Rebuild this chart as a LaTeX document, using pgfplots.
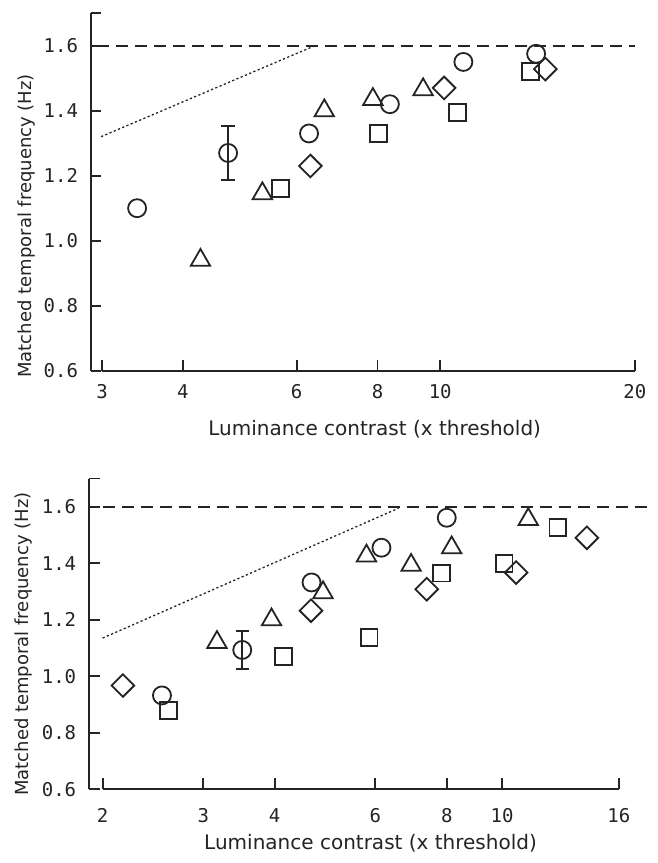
\documentclass[border=0pt]{standalone}
\usepackage{fontspec}
\setmainfont{DejaVu Sans}
\newfontfamily\tickfont{DejaVu Sans Mono}
\usepackage{pgfplots}
\pgfplotsset{compat=1.18}
\definecolor{ink}{RGB}{35,35,40}

\pgfplotsset{
 mypanel/.style={
  scale only axis, ymin=0.6, ymax=1.7,
  axis x line=bottom, axis y line=left,
  axis line style={-, line width=1pt, ink},
  x axis line style={draw=none},
  tick align=inside, major tick length=5.5pt,
  tick style={ink, line width=0.9pt},
  ytick={0.6,0.8,1.0,1.2,1.4,1.6,1.7},
  yticklabels={0.6,0.8,1.0,1.2,1.4,1.6,{}},
  ticklabel style={font=\tickfont\fontsize{9.5}{10}\selectfont, text=ink},
  yticklabel style={anchor=east, xshift=-2.7pt},
  ylabel style={font=\fontsize{9}{11}\selectfont, text=ink, anchor=center},
  xlabel style={font=\fontsize{10}{12}\selectfont, text=ink, anchor=center},
  clip=false,
 },
 mcirc/.style={only marks, mark=o, mark size=4.5pt, mark options={ink, line width=0.9pt, fill=white}},
 mtri/.style={only marks, mark=triangle, mark size=5.6pt, mark options={ink, line width=0.9pt}},
 msq/.style={only marks, mark=square, mark size=4.2pt, mark options={ink, line width=0.9pt}},
 mdia/.style={only marks, mark=square, mark size=4pt, mark options={ink, line width=0.9pt, rotate=45}},
 mref/.style={ink, line width=0.9pt, dash pattern=on 6pt off 3.5pt},
 mdotl/.style={ink, line width=0.65pt, dash pattern=on 1.1pt off 1.2pt},
}

\begin{document}
\begin{tikzpicture}
\useasboundingbox (-45.25pt,-246.15pt) rectangle (283.75pt,185.35pt);

% ---------------- top panel ----------------
\begin{axis}[mypanel, xmode=log,
  at={(0,0)}, anchor=south west,
  width=272.2pt, height=178.75pt,
  xmin=2.88, xmax=20,
  xtick={3,4,6,8,10,20}, xticklabels={3,4,6,8,10,20},
  xticklabel style={anchor=center, yshift=-10.5pt},
  xlabel={Luminance contrast (x threshold)},
  ylabel={Matched temporal frequency (Hz)},
  xlabel style={at={(axis description cs:0.522,0)}, yshift=-29.2pt},
  ylabel style={at={(axis description cs:0,0.405)}, yshift=31.75pt},
]
\addplot[ink, line width=1pt] coordinates {(3,0.6) (20,0.6)};
\addplot[mref] coordinates {(2.95,1.6) (20,1.6)};
\addplot[mdotl] coordinates {(2.99,1.32) (6.35,1.597)};
\addplot[mcirc, error bars/.cd, y dir=both, y explicit,
  error bar style={ink, line width=0.9pt},
  error mark options={rotate=90, mark size=3.3pt, ink, line width=0.9pt}]
  coordinates {(3.40,1.10) (4.70,1.27) +- (0,0.083) (6.27,1.33) (8.36,1.42) (10.86,1.55) (14.07,1.575)};
\addplot[mtri] coordinates {(4.26,0.94) (5.31,1.145) (6.62,1.40) (7.87,1.435) (9.41,1.465)};
\addplot[msq] coordinates {(5.67,1.16) (8.03,1.33) (10.63,1.395) (13.79,1.52)};
\addplot[mdia] coordinates {(6.30,1.23) (10.14,1.47) (14.54,1.528)};
\end{axis}

% ---------------- bottom panel ----------------
\begin{axis}[mypanel, xmode=log,
  at={(-0.95pt,-209.25pt)}, anchor=south west,
  width=279.7pt, height=155.35pt,
  xmin=1.89, xmax=18,
  xtick={2,3,4,6,8,10,16}, xticklabels={2,3,4,6,8,10,16},
  xticklabel style={anchor=center, yshift=-13pt},
  xlabel={Luminance contrast (x threshold)},
  ylabel={Matched temporal frequency (Hz)},
  xlabel style={at={(axis description cs:0.504,0)}, yshift=-27.25pt},
  ylabel style={at={(axis description cs:0,0.467)}, yshift=32.3pt},
]
\addplot[ink, line width=1pt] coordinates {(2,0.6) (16,0.6)};
\addplot[mref] coordinates {(2.0,1.6) (18,1.6)};
\addplot[mdotl] coordinates {(2.0,1.135) (6.59,1.595)};
\addplot[mcirc, error bars/.cd, y dir=both, y explicit,
  error bar style={ink, line width=0.9pt},
  error mark options={rotate=90, mark size=3.3pt, ink, line width=0.9pt}]
  coordinates {(2.54,0.932) (3.51,1.093) +- (0,0.068) (4.64,1.332) (6.15,1.455) (8.0,1.561)};
\addplot[mdia] coordinates {(2.17,0.967) (4.63,1.232) (7.38,1.308) (10.58,1.367) (14.07,1.49)};
\addplot[msq] coordinates {(2.61,0.879) (4.14,1.069) (5.85,1.138) (7.83,1.365) (10.08,1.40) (12.52,1.526)};
\addplot[mtri] coordinates {(3.17,1.12) (3.95,1.20) (4.86,1.296) (5.79,1.426) (6.93,1.393) (8.16,1.455) (11.11,1.555)};
\end{axis}
\end{tikzpicture}
\end{document}
